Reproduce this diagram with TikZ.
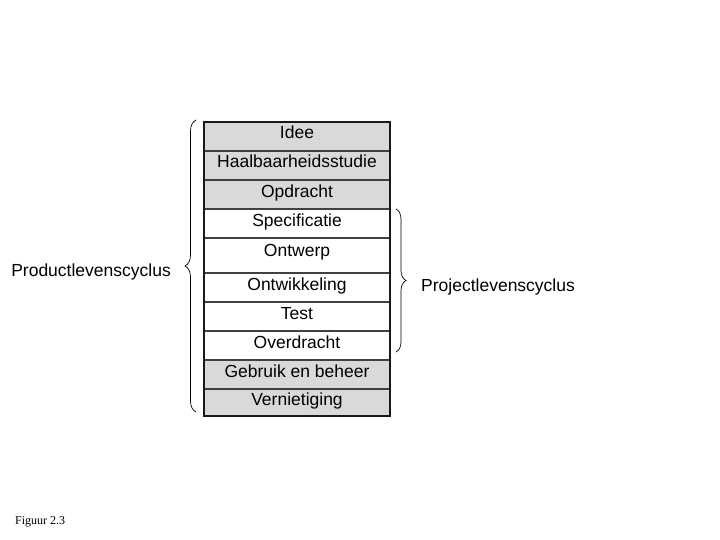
\documentclass[tikz,border=0pt]{standalone}
\usepackage{fontspec}
\setmainfont{Liberation Sans}
\newfontfamily\figfont{Liberation Serif}
\usepackage{xcolor}
\usepackage{tikz}
\usetikzlibrary{positioning, decorations.pathreplacing}

\definecolor{phasegray}{RGB}{217,217,217}

\begin{document}
\begin{tikzpicture}[
    x=1pt, y=-1pt,
    node distance=0pt,
    phase/.style={rectangle, draw=black!75, line width=1.3pt, fill=white, minimum width=186pt, minimum height=29pt, inner sep=0pt, outer sep=0pt, text height=12pt, text depth=7pt, font=\fontsize{17.5}{20}\selectfont},
    grayphase/.style={phase, fill=phasegray},
    cycle/.style={font=\fontsize{17.5}{20}\selectfont, inner sep=0pt},
    curly/.style={decorate, decoration={brace, amplitude=#1}, line width=0.7pt}
]
\useasboundingbox (0,0) rectangle (720,540);

\node[grayphase, anchor=north west] (idee) at (204,122) {Idee};
\node[grayphase, below=of idee] (haalb) {Haalbaarheidsstudie};
\node[grayphase, below=of haalb] (opdr) {Opdracht};
\node[phase, below=of opdr] (spec) {Specificatie};
\node[phase, below=of spec, minimum height=35pt, text depth=10.5pt] (ontw) {Ontwerp};
\node[phase, below=of ontw] (ontwik) {Ontwikkeling};
\node[phase, below=of ontwik] (test) {Test};
\node[phase, below=of test] (overdr) {Overdracht};
\node[grayphase, below=of overdr] (gebr) {Gebruik en beheer};
\node[grayphase, below=of gebr, minimum height=27pt, text depth=5.5pt] (vern) {Vernietiging};
% outer frame
\draw[line width=1.8pt, black!90] (idee.north west) rectangle (vern.south east);

% braces
\draw[curly=11pt] ([shift={(-8pt,4pt)}]vern.south west) -- ([shift={(-8pt,2pt)}]idee.north west);
\draw[curly=10pt] ([shift={(6pt,0pt)}]spec.north east) -- ([shift={(6pt,8pt)}]overdr.south east);

\node[cycle, anchor=base east] (prodcyc) at (171,276) {Productlevenscyclus};
\node[cycle, anchor=base west] (projcyc) at (421,291) {Projectlevenscyclus};

\node[anchor=base west, inner sep=0pt, font=\figfont\fontsize{12}{14}\selectfont] (fig) at (15,524) {Figuur 2.3};

\end{tikzpicture}
\end{document}
